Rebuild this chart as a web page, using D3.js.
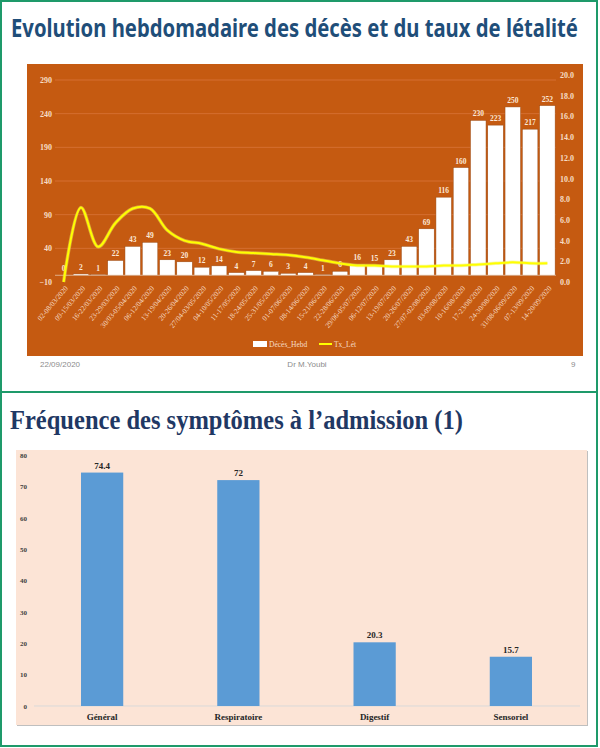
<!DOCTYPE html>
<html lang="fr">
<head>
<meta charset="UTF-8">
<title>Décès et symptômes</title>
<script src="https://d3js.org/d3.v7.min.js"></script>
<style>
  * { margin: 0; padding: 0; }
  body { background: #fff; width: 600px; height: 748px; overflow: hidden; }
  svg { display: block; }
</style>
</head>
<body>
<svg id="page" width="600" height="748"></svg>
<script>
// --- donnees : evolution hebdomadaire
var weeks = ["02-08/03/2020","09-15/03/2020","16-22/03/2020","23-29/03/2020","30/03-05/04/2020",
  "06-12/04/2020","13-19/04/2020","20-26/04/2020","27/04-03/05/2020","04-10/05/2020",
  "11-17/05/2020","18-24/05/2020","25-31/05/2020","01-07/06/2020","08-14/06/2020",
  "15-21/06/2020","22-28/06/2020","29/06-05/07/2020","06-12/07/2020","13-19/07/2020",
  "20-26/07/2020","27/07-02/08/2020","03-09/08/2020","10-16/08/2020","17-23/08/2020",
  "24-30/08/2020","31/08-06/09/2020","07-13/09/2020","14-20/09/2020"];
var deces = [0,2,1,22,43,49,23,20,12,14,4,7,6,3,4,1,6,16,15,23,43,69,116,160,230,223,250,217,252];
var letalite = [0,7.2,3.4,5.7,7.1,7.1,5.0,4.0,3.7,3.2,2.9,2.8,2.7,2.6,2.4,2.1,1.8,1.6,1.6,1.5,1.5,1.5,1.6,1.6,1.7,1.8,1.9,1.8,1.8];
var leftTicks = [-10,40,90,140,190,240,290];
var rightTicks = [0,2,4,6,8,10,12,14,16,18,20];

// --- donnees : symptomes
var symptomes = ["Général","Respiratoire","Digestif","Sensoriel"];
var frequences = [74.4,72,20.3,15.7];
var freqTicks = [0,10,20,30,40,50,60,70,80];

var svg = d3.select("#page");
var green = "#1e9a6a";

// cadres verts
svg.append("rect").attr("x",1).attr("y",1).attr("width",596).attr("height",391)
  .attr("fill","none").attr("stroke",green).attr("stroke-width",2);
svg.append("rect").attr("x",1).attr("y",392).attr("width",596).attr("height",354)
  .attr("fill","none").attr("stroke",green).attr("stroke-width",2);

// titres : on resserre horizontalement pour tenir la largeur voulue
function title(x0, y0, width, family, size, color, txt) {
  var g = svg.append("g");
  var t = g.append("text").attr("x",0).attr("y",0)
    .style("font-family",family).style("font-weight","bold")
    .style("font-size",size).attr("fill",color).text(txt);
  var w = t.node().getComputedTextLength();
  g.attr("transform","translate(" + x0 + "," + y0 + ") scale(" + (width / w) + ",1)");
}
title(11, 37, 567, "'Noto Sans', sans-serif", "25px", "#1f4e79",
  "Evolution hebdomadaire des décès et du taux de létalité");
title(10, 429, 453, "'Liberation Serif', serif", "27px", "#1f3864",
  "Fréquence des symptômes à l’admission (1)");

// ================= graphique 1
var g1 = svg.append("g");
g1.append("rect").attr("x",27).attr("y",64).attr("width",556).attr("height",292).attr("fill","#c55a11");

var x = d3.scaleBand().domain(weeks).range([55,556]).paddingInner(0.1).paddingOuter(0.05);
var y = d3.scaleLinear().domain([-10,290]).range([282,80]);
var y2 = d3.scaleLinear().domain([0,20]).range([282,75]);

var lab = "#f7dcc6";
var serif = "'Liberation Serif', serif";

// grille
g1.selectAll(".grid").data(leftTicks.slice(1)).join("line")
  .attr("x1",55).attr("x2",556).attr("y1",function(d){return y(d);}).attr("y2",function(d){return y(d);})
  .attr("stroke","#d9753a").attr("stroke-width",0.8);

// axe gauche
var yAxis = g1.append("g").attr("transform","translate(52,0)")
  .call(d3.axisLeft(y).tickValues(leftTicks).tickSize(0).tickPadding(0));
yAxis.select(".domain").remove();
yAxis.selectAll("text").attr("fill",lab).style("font-family",serif).style("font-weight","bold").style("font-size","8px");

// axe droit
var y2Axis = g1.append("g").attr("transform","translate(560,0)")
  .call(d3.axisRight(y2).tickValues(rightTicks).tickFormat(d3.format(".1f")).tickSize(0).tickPadding(0));
y2Axis.select(".domain").remove();
y2Axis.selectAll("text").attr("fill",lab).style("font-family",serif).style("font-weight","bold").style("font-size","8px");

// barres
g1.selectAll(".bar").data(deces).join("rect")
  .attr("x",function(d,i){return x(weeks[i]);})
  .attr("y",function(d){return y(d);})
  .attr("width",x.bandwidth())
  .attr("height",function(d){return y(0)-y(d);})
  .attr("fill","#fff").attr("stroke","#9c4a12").attr("stroke-width",0.5);

// ligne zero
g1.append("line").attr("x1",55).attr("x2",556).attr("y1",y(0)).attr("y2",y(0))
  .attr("stroke","#e8c3a6").attr("stroke-width",0.8);

// etiquettes des barres
g1.selectAll(".vlab").data(deces).join("text")
  .attr("x",function(d,i){return x(weeks[i])+x.bandwidth()/2;})
  .attr("y",function(d){return y(d)-4;})
  .attr("text-anchor","middle").attr("fill","#fbe8d8")
  .style("font-family",serif).style("font-weight","bold").style("font-size","7.5px")
  .text(function(d){return d;});

// ligne taux de letalite
var line = d3.line()
  .x(function(d,i){return x(weeks[i])+x.bandwidth()/2;})
  .y(function(d){return y2(d);})
  .curve(d3.curveCatmullRom.alpha(0.5));
g1.append("path").datum(letalite).attr("d",line)
  .attr("fill","none").attr("stroke","#f2f25a").attr("stroke-width",3.5).attr("stroke-opacity",0.5);
g1.append("path").datum(letalite).attr("d",line)
  .attr("fill","none").attr("stroke","#ffff00").attr("stroke-width",2);

// etiquettes des semaines
var xAxis = g1.append("g").attr("transform","translate(0,285)")
  .call(d3.axisBottom(x).tickSize(0).tickPadding(0));
xAxis.select(".domain").remove();
xAxis.selectAll("text")
  .attr("transform","translate(3,2) rotate(-50)")
  .attr("text-anchor","end").attr("dy","0.3em")
  .attr("fill",lab).style("font-family",serif).style("font-size","7.3px");

// legende
g1.append("rect").attr("x",253).attr("y",341).attr("width",14).attr("height",6).attr("fill","#fff");
g1.append("text").attr("x",269).attr("y",347).attr("fill",lab)
  .style("font-family",serif).style("font-size","7.5px").text("Décès_Hebd");
g1.append("line").attr("x1",319).attr("x2",332).attr("y1",344).attr("y2",344)
  .attr("stroke","#ffff00").attr("stroke-width",2);
g1.append("text").attr("x",334).attr("y",347).attr("fill",lab)
  .style("font-family",serif).style("font-size","7.5px").text("Tx_Lét");

// pied de page
var foot = g1.append("g").style("font-family","'Liberation Sans', sans-serif").style("font-size","8px").attr("fill","#8c8c8c");
foot.append("text").attr("x",40).attr("y",367).text("22/09/2020");
foot.append("text").attr("x",307).attr("y",367).attr("text-anchor","middle").text("Dr M.Youbi");
foot.append("text").attr("x",571).attr("y",367).text("9");

// ================= graphique 2
var g2 = svg.append("g");
g2.append("rect").attr("x",17).attr("y",451).attr("width",571).attr("height",275).attr("fill","#bfbfbf");
g2.append("rect").attr("x",16).attr("y",450).attr("width",571).attr("height",275).attr("fill","#fce4d6");

var xs = d3.scaleBand().domain(symptomes).range([34,579]).paddingInner(0.69).paddingOuter(0.345);
var ys = d3.scaleLinear().domain([0,80]).range([706,455]);

var sAxis = g2.append("g").attr("transform","translate(27,0)")
  .call(d3.axisLeft(ys).tickValues(freqTicks).tickSize(0).tickPadding(0));
sAxis.select(".domain").remove();
sAxis.selectAll("text").attr("fill","#404040").style("font-family",serif).style("font-weight","bold").style("font-size","7px");

g2.append("line").attr("x1",34).attr("x2",580).attr("y1",ys(0)).attr("y2",ys(0))
  .attr("stroke","#d9d9d9").attr("stroke-width",1);

g2.selectAll(".sbar").data(frequences).join("rect")
  .attr("x",function(d,i){return xs(symptomes[i]);})
  .attr("y",function(d){return ys(d);})
  .attr("width",xs.bandwidth())
  .attr("height",function(d){return ys(0)-ys(d);})
  .attr("fill","#5b9bd5");

g2.selectAll(".slab").data(frequences).join("text")
  .attr("x",function(d,i){return xs(symptomes[i])+xs.bandwidth()/2;})
  .attr("y",function(d){return ys(d)-4;})
  .attr("text-anchor","middle").attr("fill","#262626")
  .style("font-family",serif).style("font-weight","bold").style("font-size","9px")
  .text(function(d){return d;});

var cAxis = g2.append("g").attr("transform","translate(0,714)")
  .call(d3.axisBottom(xs).tickSize(0).tickPadding(0));
cAxis.select(".domain").remove();
cAxis.selectAll("text").attr("fill","#262626").attr("dy","0.71em")
  .style("font-family",serif).style("font-weight","bold").style("font-size","9px");
</script>
</body>
</html>
